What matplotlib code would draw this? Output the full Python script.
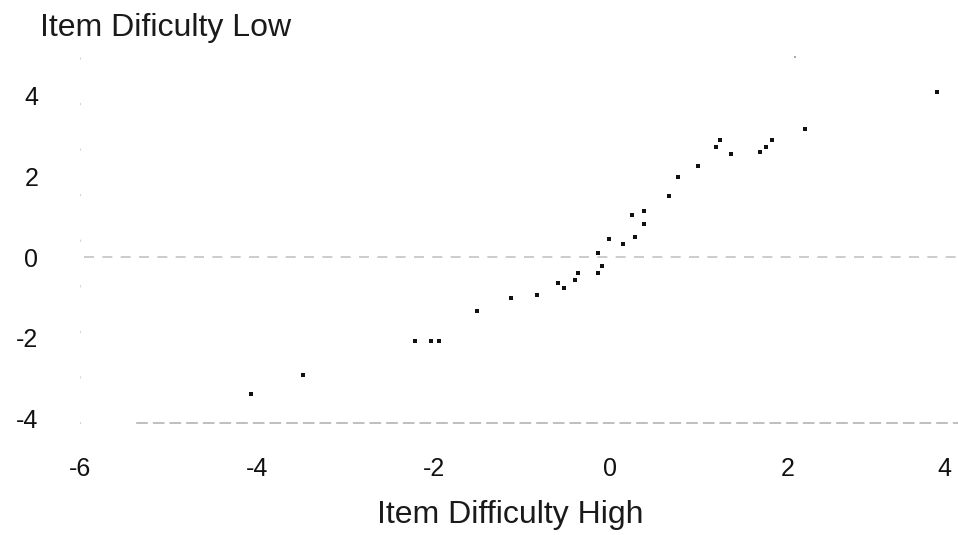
import matplotlib.pyplot as plt
import matplotlib.transforms as mtransforms

plt.rcParams['font.family'] = ['Liberation Sans', 'DejaVu Sans']

# item difficulty estimates: high group (x) vs low group (y)
diff_high = [-4.06, -3.48, -2.21, -2.03, -1.94, -1.51, -1.12, -0.83, -0.59, -0.53,
             -0.40, -0.37, -0.14, -0.09, -0.14, -0.02, 0.14, 0.28, 0.24, 0.38,
             0.38, 0.66, 0.76, 0.99, 1.20, 1.24, 1.36, 1.69, 1.76, 1.83,
             2.20, 3.69]
diff_low = [-3.38, -2.93, -2.08, -2.08, -2.08, -1.34, -1.01, -0.93, -0.65, -0.77,
            -0.57, -0.39, -0.39, -0.22, 0.09, 0.44, 0.31, 0.49, 1.04, 0.82,
            1.14, 1.52, 1.99, 2.26, 2.73, 2.90, 2.55, 2.59, 2.73, 2.90,
            3.17, 4.08]
# barely visible point near the top
faint_high = [2.09]
faint_low = [4.96]

x_ticks = [-6, -4, -2, 0, 2, 4]
y_ticks = [-4, -2, 0, 2, 4]

fig = plt.figure(figsize=(9.58, 5.35), dpi=100)
ax = fig.add_axes([0.0835, 0.21, 0.932, 0.7023])

ax.scatter(diff_high, diff_low, s=9, marker='s', color='#111111', linewidths=0)
ax.scatter(faint_high, faint_low, s=4, marker='s', color='#aaaaaa', linewidths=0)

ax.axhline(0, xmin=0.005, color='#c4c4c4', lw=1.2, ls=(0, (6, 5)), zorder=0)

ax.set_xlim(-6, 4.1)
ax.set_ylim(-4.1, 5.2)
ax.set_xticks(x_ticks)
ax.set_yticks(y_ticks)
ax.set_xticklabels([str(v) for v in x_ticks])
ax.set_yticklabels([str(v) for v in y_ticks])
ax.tick_params(length=0, labelsize=18, colors='#111111')
ax.tick_params(axis='y', pad=30)
ax.tick_params(axis='x', pad=25)

# last x label sits at the very edge of the picture; pull it in a bit
last = ax.get_xticklabels()[-1]
last.set_transform(last.get_transform() +
                   mtransforms.ScaledTranslation(-20 / 100, 0, fig.dpi_scale_trans))

for s in ['top', 'right']:
    ax.spines[s].set_visible(False)
ax.spines['left'].set_color('#d4d4d4')
ax.spines['left'].set_linestyle((0, (1, 40)))
ax.spines['bottom'].set_color('#b4b4b4')
ax.spines['bottom'].set_linestyle((0, (6, 4)))
ax.spines['bottom'].set_linewidth(1.2)
ax.spines['bottom'].set_bounds(-5.35, 4.1)

fig.text(40 / 958, 1 - 28 / 535, 'Item Dificulty Low', fontsize=23,
         color='#1a1a1a', ha='left', va='center')
fig.text(510 / 958, 1 - 515 / 535, 'Item Difficulty High', fontsize=23,
         color='#1a1a1a', ha='center', va='center')

fig.savefig('out.png', dpi=100)
